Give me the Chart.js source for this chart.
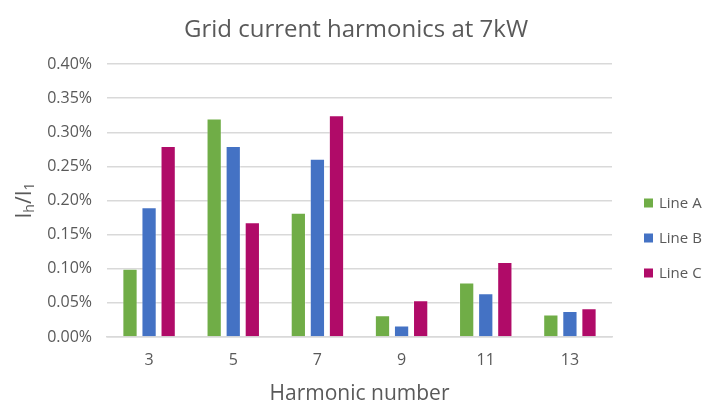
<!DOCTYPE html>
<html>
<head>
<meta charset="utf-8">
<script src="https://cdn.jsdelivr.net/npm/chart.js@4/dist/chart.umd.min.js"></script>
<style>
  html, body { margin: 0; padding: 0; background: #ffffff; }
  #wrap { width: 705px; height: 405px; }
</style>
</head>
<body>
<div id="wrap"><canvas id="c" width="705" height="405"></canvas></div>
<script>
// Harmonic orders on the x axis
const harmonics = ['3', '5', '7', '9', '11', '13'];

// Harmonic current relative to fundamental, in percent
const lineA = [0.100, 0.320, 0.182, 0.032, 0.080, 0.033];
const lineB = [0.190, 0.280, 0.261, 0.017, 0.064, 0.038];
const lineC = [0.280, 0.168, 0.325, 0.054, 0.110, 0.042];

const seriesNames = ['Line A', 'Line B', 'Line C'];
const seriesColors = ['#70AD47', '#4472C4', '#B00B68'];

// Y axis ticks: 0.00% .. 0.40%
const yTicks = [0, 0.05, 0.10, 0.15, 0.20, 0.25, 0.30, 0.35, 0.40];

const chartTitle = 'Grid current harmonics at 7kW';

const FONT = '"Open Sans", "DejaVu Sans", sans-serif';
const TEXT = '#595959';
const GRID = '#D9D9D9';

// Chart title, centred on the whole canvas
const titlePlugin = {
  id: 'canvasTitle',
  afterDraw(chart) {
    const ctx = chart.ctx;
    ctx.save();
    ctx.font = '24px ' + FONT;
    ctx.fillStyle = TEXT;
    ctx.textAlign = 'center';
    ctx.textBaseline = 'middle';
    ctx.fillText(chartTitle, 356, 30);
    ctx.restore();
  }
};

// Rotated y-axis title "Ih/I1" with subscripts
const yTitlePlugin = {
  id: 'yTitleSub',
  afterDraw(chart) {
    const ctx = chart.ctx;
    const area = chart.chartArea;
    const cx = 25;
    const cy = (area.top + area.bottom) / 2;
    const big = '21px ' + FONT;
    const small = '14px ' + FONT;
    const parts = [
      { t: 'I', f: big, dy: 0 },
      { t: 'h', f: small, dy: 5 },
      { t: '/I', f: big, dy: 0 },
      { t: '1', f: small, dy: 5 }
    ];
    ctx.save();
    let total = 0;
    parts.forEach(p => { ctx.font = p.f; p.w = ctx.measureText(p.t).width; total += p.w; });
    ctx.translate(cx, cy);
    ctx.rotate(-Math.PI / 2);
    ctx.fillStyle = TEXT;
    ctx.textBaseline = 'middle';
    ctx.textAlign = 'left';
    let x = -total / 2;
    parts.forEach(p => {
      ctx.font = p.f;
      ctx.fillText(p.t, x, p.dy);
      x += p.w;
    });
    ctx.restore();
  }
};

// Legend to the right of the plot, series stacked vertically
const sideLegendPlugin = {
  id: 'sideLegend',
  afterDraw(chart) {
    const ctx = chart.ctx;
    const area = chart.chartArea;
    const x0 = area.right + 32;
    const y0 = area.top + 139;
    const step = 35;
    ctx.save();
    ctx.font = '15px ' + FONT;
    ctx.textBaseline = 'middle';
    ctx.textAlign = 'left';
    chart.data.datasets.forEach((ds, i) => {
      const y = y0 + i * step;
      ctx.fillStyle = ds.backgroundColor;
      ctx.fillRect(x0, y - 4.5, 9, 9);
      ctx.fillStyle = TEXT;
      ctx.fillText(ds.label, x0 + 15, y + 1);
    });
    ctx.restore();
  }
};

const datasets = [lineA, lineB, lineC].map((vals, i) => ({
  label: seriesNames[i],
  data: vals,
  backgroundColor: seriesColors[i],
  borderColor: 'rgba(255,255,255,0.35)',
  borderWidth: 1,
  categoryPercentage: 0.68,
  barPercentage: 0.8
}));

new Chart(document.getElementById('c'), {
  type: 'bar',
  data: { labels: harmonics, datasets },
  options: {
    responsive: false,
    animation: false,
    devicePixelRatio: 1,
    layout: { padding: { left: 0, right: 93, top: 64, bottom: 0 } },
    plugins: {
      title: { display: false },
      legend: { display: false },
      tooltip: { enabled: false }
    },
    scales: {
      x: {
        afterFit(scale) { scale.height = 68; },
        grid: { display: false, drawTicks: false, tickLength: 0 },
        border: { color: GRID, width: 1.5 },
        ticks: { color: TEXT, font: { family: FONT, size: 16 }, padding: 14, maxRotation: 0 },
        title: {
          display: true,
          text: 'Harmonic number',
          color: TEXT,
          font: { family: FONT, size: 21 },
          padding: { top: 0, bottom: -2 }
        }
      },
      y: {
        min: 0,
        max: 0.40,
        afterFit(scale) { scale.width = 107; },
        afterBuildTicks(scale) { scale.ticks = yTicks.map(v => ({ value: v })); },
        grid: { color: GRID, lineWidth: 1.5, drawTicks: false, tickLength: 0 },
        border: { display: false },
        ticks: {
          color: TEXT,
          font: { family: FONT, size: 16 },
          padding: 15,
          callback: v => v.toFixed(2) + '%'
        }
      }
    }
  },
  plugins: [titlePlugin, yTitlePlugin, sideLegendPlugin]
});
</script>
</body>
</html>
